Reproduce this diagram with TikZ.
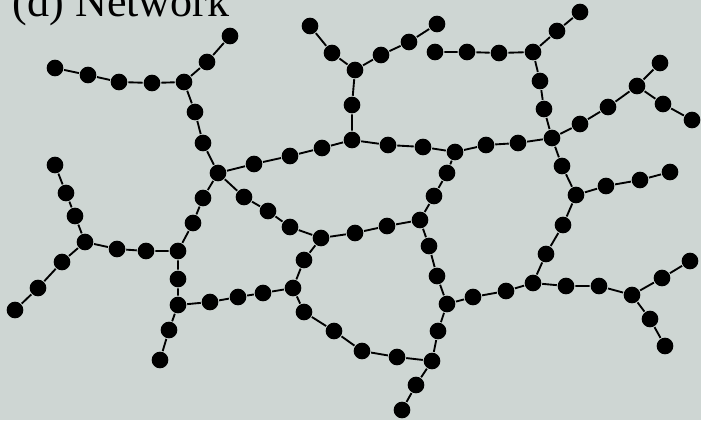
\documentclass[tikz,border=0pt]{standalone}
\usepackage{fontspec}
\setmainfont{Liberation Serif}
\definecolor{panelgray}{RGB}{206,214,211}

\begin{document}
\begin{tikzpicture}[x=0.03cm, y=-0.03cm, line width=1.6pt,
    dot/.style={circle, fill=black, inner sep=0pt, minimum size=0.5cm}]
    \clip (0,0) rectangle (701,420);
    \fill[panelgray] (0,0) rectangle (701,420);
    \node[anchor=base west, inner sep=0pt, font=\fontsize{37.6}{40}\selectfont] (title) at (12,16) {(d) Network};
    % junctions
    \foreach \n/\x/\y in {j1/184/82, j2/218/173, j3/355/70, j5/533/52, j6/552/138,
        j7/455/152, j8/637/86, j9/576/195, j10/85/242, j11/178/251, j12/178/305,
        j13/293/288, j14/321/238, j15/420/220, j16/447/304, j17/533/283,
        j18/632/295, j19/432/361, j20/352/140}
        \node[dot] (\n) at (\x,\y) {};
    % dots along the links
    \foreach \n/\x/\y in {a1/55/68, a2/88/75, a3/119/82, a4/152/83, b1/207/62, b2/230/36,
        c1/195/112, c2/203/143, d1/254/164, d2/290/156, d3/322/148, e1/352/105,
        f1/332/53, f2/310/26, g1/381/55, g2/409/42, g3/437/24,
        h1/435/52, h2/467/52, h3/499/53, i1/557/31, i2/580/12,
        k1/540/81, k2/544/109, l1/388/145, l2/423/147, m1/486/145, m2/518/143,
        o1/580/124, o2/608/107, q1/660/63, r1/663/104, r2/692/120,
        s1/562/166, t1/606/186, t2/640/180, t3/670/172, u1/563/225, u2/546/254,
        v1/566/286, v2/599/286, w1/662/278, w2/690/261, x1/650/319, x2/665/346,
        y1/506/291, y2/473/297, z1/447/173, z2/434/196, aa1/429/246, aa2/437/276,
        bb1/438/331, cc1/416/385, cc2/402/410, dd1/244/197, dd2/268/211, dd3/290/227,
        ee1/355/233, ee2/387/226, ff1/304/260, gg1/304/312, gg2/334/331, gg3/362/351,
        gg4/397/357, hh1/263/293, hh2/238/297, hh3/210/302, ii1/169/330, ii2/160/360,
        jj1/178/279, kk1/193/223, kk2/203/198, ll1/146/251, ll2/117/249,
        mm1/75/216, mm2/66/193, mm3/55/165, nn1/62/262, nn2/38/288, nn3/15/310}
        \node[dot] (\n) at (\x,\y) {};
    % links
    \draw (a1) -- (a2) -- (a3) -- (a4) -- (j1) -- (b1) -- (b2);
    \draw (j1) -- (c1) -- (c2) -- (j2) -- (d1) -- (d2) -- (d3) -- (j20) -- (e1) -- (j3) -- (f1) -- (f2);
    \draw (j3) -- (g1) -- (g2) -- (g3);
    \draw (h1) -- (h2) -- (h3) -- (j5) -- (i1) -- (i2);
    \draw (j5) -- (k1) -- (k2) -- (j6) -- (o1) -- (o2) -- (j8) -- (q1);
    \draw (j8) -- (r1) -- (r2);
    \draw (j20) -- (l1) -- (l2) -- (j7) -- (m1) -- (m2) -- (j6) -- (s1) -- (j9) -- (t1) -- (t2) -- (t3);
    \draw (j9) -- (u1) -- (u2) -- (j17) -- (v1) -- (v2) -- (j18) -- (w1) -- (w2);
    \draw (j18) -- (x1) -- (x2);
    \draw (j17) -- (y1) -- (y2) -- (j16) -- (bb1) -- (j19) -- (cc1) -- (cc2);
    \draw (j7) -- (z1) -- (z2) -- (j15) -- (aa1) -- (aa2) -- (j16);
    \draw (j2) -- (dd1) -- (dd2) -- (dd3) -- (j14) -- (ee1) -- (ee2) -- (j15);
    \draw (j14) -- (ff1) -- (j13) -- (gg1) -- (gg2) -- (gg3) -- (gg4) -- (j19);
    \draw (j13) -- (hh1) -- (hh2) -- (hh3) -- (j12) -- (ii1) -- (ii2);
    \draw (j12) -- (jj1) -- (j11) -- (kk1) -- (kk2) -- (j2);
    \draw (j11) -- (ll1) -- (ll2) -- (j10) -- (mm1) -- (mm2) -- (mm3);
    \draw (j10) -- (nn1) -- (nn2) -- (nn3);
\end{tikzpicture}
\end{document}
